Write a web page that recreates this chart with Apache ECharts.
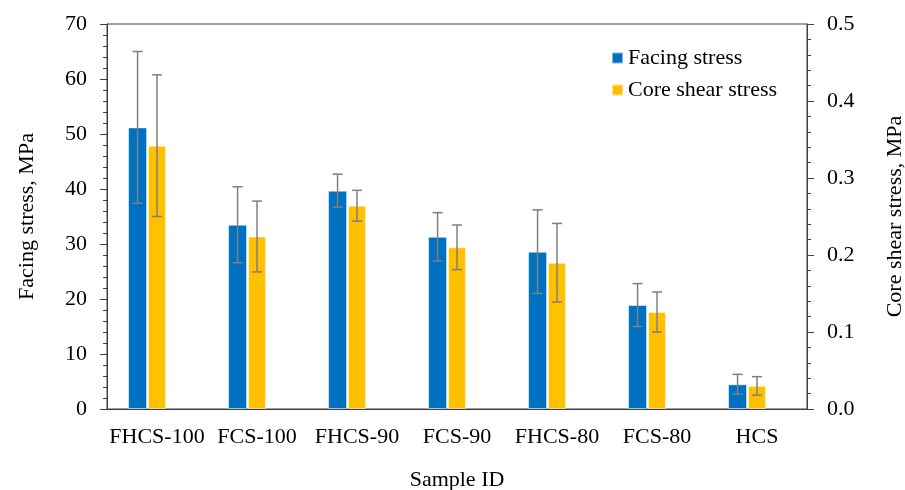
<!DOCTYPE html>
<html>
<head>
<meta charset="utf-8">
<script src="https://cdn.jsdelivr.net/npm/echarts@6/dist/echarts.min.js"></script>
<style>
html,body{margin:0;padding:0;background:#fff;}
#chart{width:905px;height:490px;}
</style>
</head>
<body>
<div id="chart"></div>
<script>
const categories = ['FHCS-100', 'FCS-100', 'FHCS-90', 'FCS-90', 'FHCS-80', 'FCS-80', 'HCS'];
const facingStress = [51.2, 33.5, 39.7, 31.3, 28.6, 18.9, 4.5];
const facingStressErr = [13.8, 6.9, 3.0, 4.4, 7.6, 3.9, 1.8];
const coreShearStress = [0.342, 0.224, 0.264, 0.210, 0.190, 0.126, 0.030];
const coreShearStressErr = [0.092, 0.046, 0.020, 0.029, 0.051, 0.026, 0.012];
const leftTicks = [0, 10, 20, 30, 40, 50, 60, 70];
const rightTicks = [0, 0.1, 0.2, 0.3, 0.4, 0.5];

const FONT = '"Liberation Serif", "Times New Roman", serif';
const FS = 22;
const BLUE = '#0070C0';
const YELLOW = '#FFC000';
const ERR = '#7f7f7f';
const AXIS = '#404040';

// bar layout constants (same rule as ECharts bar layout)
const wBlue = 19, wYellow = 18, wSpacer = 19, gapPct = 0.05;
const total = wBlue * (1 + gapPct) + wYellow * (1 + gapPct) + wSpacer;
const blueCenter = -total / 2 + wBlue / 2;
const yellowCenter = -total / 2 + wBlue * (1 + gapPct) + wYellow / 2;

function errRender(offset) {
  return function (params, api) {
    const i = api.value(0), v = api.value(1), e = api.value(2);
    const top = api.coord([i, v + e]);
    const bot = api.coord([i, v - e]);
    const x = top[0] + offset;
    const cap = 5;
    const style = { stroke: ERR, lineWidth: 1.5 };
    return {
      type: 'group',
      children: [
        { type: 'line', shape: { x1: x, y1: top[1], x2: x, y2: bot[1] }, style },
        { type: 'line', shape: { x1: x - cap, y1: top[1], x2: x + cap, y2: top[1] }, style },
        { type: 'line', shape: { x1: x - cap, y1: bot[1], x2: x + cap, y2: bot[1] }, style }
      ]
    };
  };
}

const chart = echarts.init(document.getElementById('chart'), null, { renderer: 'canvas' });
const yCommon = {
  type: 'value',
  splitNumber: 5,
  axisLine: { show: true, lineStyle: { color: AXIS, width: 1 } },
  axisTick: { show: true, inside: false, length: 7, lineStyle: { color: AXIS } },
  minorTick: { show: true, splitNumber: 5, length: 4, lineStyle: { color: AXIS } },
  splitLine: { show: false },
  nameLocation: 'middle',
  nameRotate: 90,
  nameTextStyle: { fontFamily: FONT, fontSize: FS, color: '#000' }
};

chart.setOption({
  animation: false,
  backgroundColor: '#fff',
  grid: { left: 107, right: 98, top: 24, bottom: 81, show: true, borderColor: AXIS, borderWidth: 1,
    containLabel: false, outerBoundsMode: 'none' },
  legend: {
    data: ['Facing stress', 'Core shear stress'],
    orient: 'vertical',
    left: 606, top: 42,
    icon: 'rect', itemWidth: 11, itemHeight: 11, itemGap: 10,
    textStyle: { fontFamily: FONT, fontSize: FS, color: '#000' }
  },
  xAxis: {
    type: 'category',
    data: categories,
    axisLine: { show: true, lineStyle: { color: AXIS } },
    axisTick: { show: false },
    axisLabel: { fontFamily: FONT, fontSize: FS, color: '#000', margin: 17, interval: 0 },
    name: 'Sample ID',
    nameLocation: 'middle',
    nameGap: 60,
    nameTextStyle: { fontFamily: FONT, fontSize: FS, color: '#000' }
  },
  yAxis: [
    Object.assign({}, yCommon, {
      min: leftTicks[0], max: leftTicks[leftTicks.length - 1], interval: 10,
      position: 'left',
      name: 'Facing stress, MPa', nameGap: 69,
      axisLabel: { fontFamily: FONT, fontSize: FS, color: '#000', margin: 20 }
    }),
    Object.assign({}, yCommon, {
      min: rightTicks[0], max: rightTicks[rightTicks.length - 1], interval: 0.1,
      position: 'right',
      name: 'Core shear stress, MPa', nameGap: 77,
      axisLabel: { fontFamily: FONT, fontSize: FS, color: '#000', margin: 20,
        formatter: v => v.toFixed(1) }
    })
  ],
  series: [
    {
      name: 'Facing stress', type: 'bar', yAxisIndex: 0,
      data: facingStress, barWidth: wBlue, barGap: '5%',
      itemStyle: { color: BLUE, borderColor: 'rgba(255,255,255,0.5)', borderWidth: 1 }
    },
    {
      name: 'Core shear stress', type: 'bar', yAxisIndex: 1,
      data: coreShearStress, barWidth: wYellow, barGap: '5%',
      itemStyle: { color: YELLOW, borderColor: 'rgba(255,255,255,0.5)', borderWidth: 1 }
    },
    {
      name: 'spacer', type: 'bar', yAxisIndex: 0,
      data: categories.map(() => null), barWidth: wSpacer, barGap: '5%',
      silent: true, itemStyle: { color: 'transparent' }
    },
    {
      name: 'Facing stress err', type: 'custom', yAxisIndex: 0, z: 5,
      renderItem: errRender(blueCenter),
      data: facingStress.map((v, i) => [i, v, facingStressErr[i]])
    },
    {
      name: 'Core shear stress err', type: 'custom', yAxisIndex: 1, z: 5,
      renderItem: errRender(yellowCenter),
      data: coreShearStress.map((v, i) => [i, v, coreShearStressErr[i]])
    }
  ]
});
</script>
</body>
</html>
